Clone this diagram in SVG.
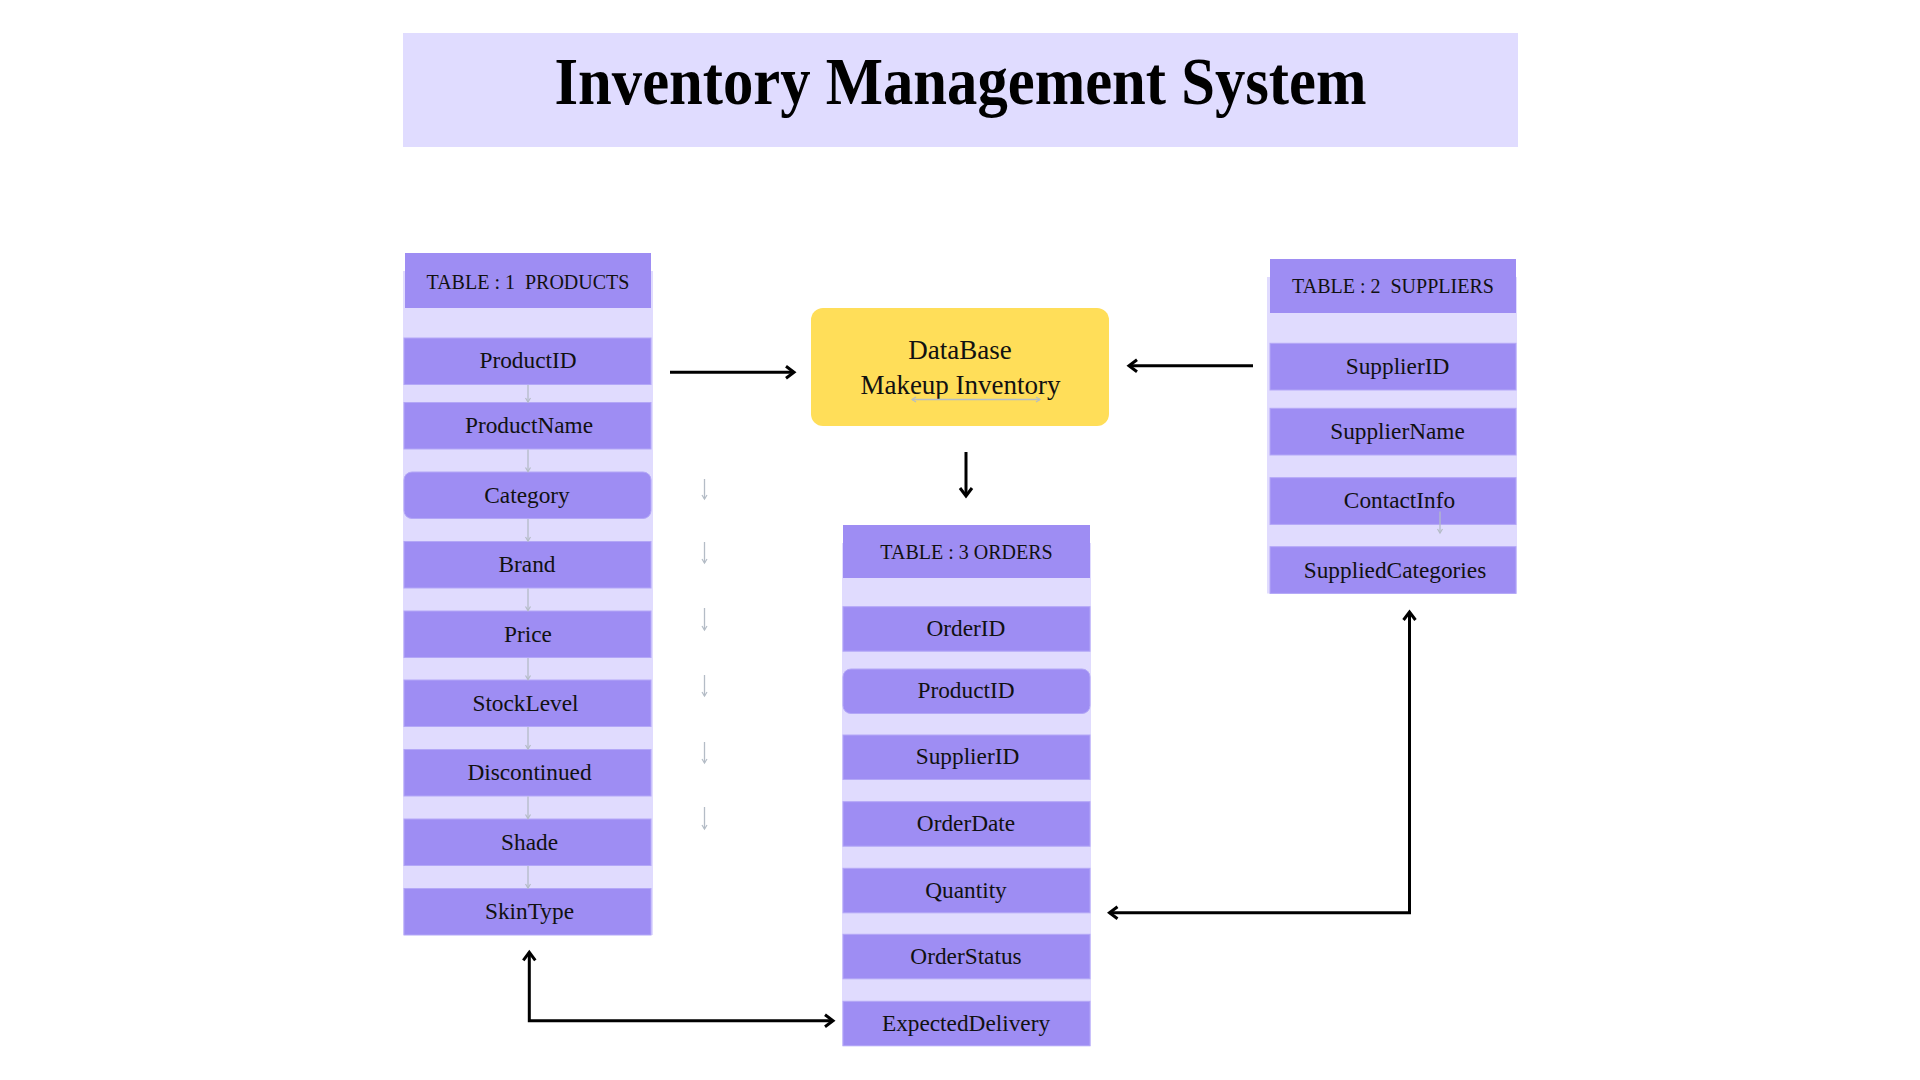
<svg xmlns="http://www.w3.org/2000/svg" width="1920" height="1080" viewBox="0 0 1920 1080">
  <style>
    .bg { fill: #E0DBFE; }
    .hdr { fill: #9E8DF3; }
    .row { fill: #9E8DF3; stroke: #B3A7F7; stroke-width: 1; }
    .hdrtxt { font-family: "Liberation Serif", "Times New Roman", serif; font-size: 20px; fill: #111; text-anchor: middle; }
    .txt { font-family: "Liberation Serif", "Times New Roman", serif; font-size: 23.3px; fill: #111; text-anchor: middle; }
    .dbtxt { font-family: "Liberation Serif", "Times New Roman", serif; font-size: 27px; fill: #111; text-anchor: middle; }
    .conn { fill: none; stroke: #000; stroke-width: 3; }
    .gray { fill: none; stroke: #B4BCC6; stroke-width: 1.3; }
  </style>
  <defs>
    <marker id="arr" markerUnits="userSpaceOnUse" markerWidth="16" markerHeight="16" viewBox="0 0 16 16" refX="13" refY="8" orient="auto-start-reverse">
      <path d="M5,2 L13,8 L5,14" fill="none" stroke="#000" stroke-width="3" stroke-linejoin="miter"/>
    </marker>
    <marker id="garr" markerUnits="userSpaceOnUse" markerWidth="8" markerHeight="8" viewBox="0 0 8 8" refX="6" refY="4" orient="auto-start-reverse">
      <path d="M2,1.5 L6,4 L2,6.5" fill="none" stroke="#B4BCC6" stroke-width="1.2"/>
    </marker>
  </defs>

  <rect width="1920" height="1080" fill="#FFFFFF"/>

  <g id="title">
    <rect x="403" y="33" width="1115" height="114" fill="#E0DCFF"/>
    <text x="960.5" y="103.5" font-family="'Liberation Serif', 'Times New Roman', serif" font-size="67" font-weight="bold" fill="#000" text-anchor="middle" textLength="812" lengthAdjust="spacingAndGlyphs">Inventory Management System</text>
  </g>

  <g id="table-products">
    <rect class="bg" x="403" y="271" width="250" height="664"/>
    <rect class="hdr" x="405" y="253" width="246" height="55"/>
    <text class="hdrtxt" x="528" y="288.5" xml:space="preserve">TABLE : 1  PRODUCTS</text>
    <rect class="row" x="404" y="338" width="247" height="46.5"/>
    <text class="txt" x="528" y="368">ProductID</text>
    <rect class="row" x="404" y="402.5" width="247" height="46.5"/>
    <text class="txt" x="529" y="433">ProductName</text>
    <rect class="row" x="404" y="472" width="247" height="46.5" rx="8"/>
    <text class="txt" x="527" y="502.5">Category</text>
    <rect class="row" x="404" y="541.5" width="247" height="46.5"/>
    <text class="txt" x="527" y="572">Brand</text>
    <rect class="row" x="404" y="611" width="247" height="46.5"/>
    <text class="txt" x="528" y="641.5">Price</text>
    <rect class="row" x="404" y="680" width="247" height="46.5"/>
    <text class="txt" x="525.5" y="710.5">StockLevel</text>
    <rect class="row" x="404" y="749.5" width="247" height="46.5"/>
    <text class="txt" x="529.5" y="780">Discontinued</text>
    <rect class="row" x="404" y="819" width="247" height="46.5"/>
    <text class="txt" x="529.5" y="849.5">Shade</text>
    <rect class="row" x="404" y="888.5" width="247" height="46.5"/>
    <text class="txt" x="529.5" y="919">SkinType</text>
    <g id="products-inner-arrows">
      <line class="gray" x1="528" y1="385" x2="528" y2="402" marker-end="url(#garr)"/>
      <line class="gray" x1="528" y1="449.5" x2="528" y2="471.5" marker-end="url(#garr)"/>
      <line class="gray" x1="528" y1="519" x2="528" y2="541" marker-end="url(#garr)"/>
      <line class="gray" x1="528" y1="588.5" x2="528" y2="610.5" marker-end="url(#garr)"/>
      <line class="gray" x1="528" y1="658" x2="528" y2="679.5" marker-end="url(#garr)"/>
      <line class="gray" x1="528" y1="727" x2="528" y2="749" marker-end="url(#garr)"/>
      <line class="gray" x1="528" y1="796.5" x2="528" y2="818.5" marker-end="url(#garr)"/>
      <line class="gray" x1="528" y1="866" x2="528" y2="888" marker-end="url(#garr)"/>
    </g>
  </g>

  <g id="database">
    <rect x="811" y="308" width="298" height="118" rx="12" fill="#FFDE59"/>
    <text class="dbtxt" x="960" y="358.5">DataBase</text>
    <text class="dbtxt" x="960.5" y="393.5">Makeup Inventory</text>
    <line class="gray" x1="912" y1="399.5" x2="1040" y2="399.5" marker-start="url(#garr)" marker-end="url(#garr)"/>
  </g>

  <g id="table-suppliers">
    <rect class="bg" x="1267" y="277" width="250" height="316.5"/>
    <rect class="hdr" x="1270" y="259" width="246" height="54"/>
    <text class="hdrtxt" x="1393" y="293" xml:space="preserve">TABLE : 2  SUPPLIERS</text>
    <rect class="row" x="1270" y="343.3" width="246" height="46.7"/>
    <text class="txt" x="1397.5" y="373.5">SupplierID</text>
    <rect class="row" x="1270" y="408.3" width="246" height="46.7"/>
    <text class="txt" x="1397.5" y="439">SupplierName</text>
    <rect class="row" x="1270" y="477.7" width="246" height="46.7"/>
    <text class="txt" x="1399.5" y="508.3">ContactInfo</text>
    <rect class="row" x="1270" y="546.7" width="246" height="46.7"/>
    <text class="txt" x="1395" y="578.3">SuppliedCategories</text>
    <line class="gray" x1="1440" y1="511.5" x2="1440" y2="533" marker-end="url(#garr)"/>
  </g>

  <g id="table-orders">
    <rect class="bg" x="842" y="543" width="249" height="503"/>
    <rect class="hdr" x="843" y="525" width="247" height="53"/>
    <text class="hdrtxt" x="966.5" y="559" xml:space="preserve">TABLE : 3 ORDERS</text>
    <rect class="row" x="843" y="606.7" width="247" height="44.5"/>
    <text class="txt" x="966" y="635.7">OrderID</text>
    <rect class="row" x="843" y="669" width="247" height="44.5" rx="8"/>
    <text class="txt" x="966" y="697.8">ProductID</text>
    <rect class="row" x="843" y="735" width="247" height="44.5"/>
    <text class="txt" x="967.5" y="764">SupplierID</text>
    <rect class="row" x="843" y="801.7" width="247" height="44.5"/>
    <text class="txt" x="966" y="831">OrderDate</text>
    <rect class="row" x="843" y="868.3" width="247" height="44.5"/>
    <text class="txt" x="966" y="897.5">Quantity</text>
    <rect class="row" x="843" y="934.3" width="247" height="44.5"/>
    <text class="txt" x="966" y="963.5">OrderStatus</text>
    <rect class="row" x="843" y="1001.3" width="247" height="44.5"/>
    <text class="txt" x="966" y="1030.5">ExpectedDelivery</text>
  </g>

  <g id="floating-arrows">
    <line class="gray" x1="704.5" y1="479" x2="704.5" y2="499" marker-end="url(#garr)"/>
    <line class="gray" x1="704.5" y1="542" x2="704.5" y2="563" marker-end="url(#garr)"/>
    <line class="gray" x1="704.5" y1="608" x2="704.5" y2="630" marker-end="url(#garr)"/>
    <line class="gray" x1="704.5" y1="675" x2="704.5" y2="696" marker-end="url(#garr)"/>
    <line class="gray" x1="704.5" y1="742" x2="704.5" y2="763" marker-end="url(#garr)"/>
    <line class="gray" x1="704.5" y1="807" x2="704.5" y2="829" marker-end="url(#garr)"/>
  </g>

  <g id="connectors">
    <line class="conn" x1="670" y1="372.3" x2="794" y2="372.3" marker-end="url(#arr)"/>
    <line class="conn" x1="1253" y1="365.7" x2="1129" y2="365.7" marker-end="url(#arr)"/>
    <line class="conn" x1="966" y1="452" x2="966" y2="496" marker-end="url(#arr)"/>
    <path class="conn" d="M1409.5,612 L1409.5,912.7 L1109.5,912.7" marker-start="url(#arr)" marker-end="url(#arr)"/>
    <path class="conn" d="M529.3,952.3 L529.3,1020.7 L833,1020.7" marker-start="url(#arr)" marker-end="url(#arr)"/>
  </g>
</svg>
